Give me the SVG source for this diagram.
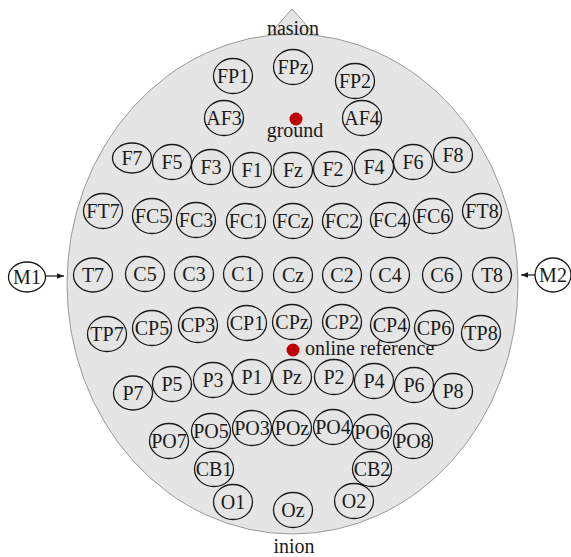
<svg xmlns="http://www.w3.org/2000/svg" width="571" height="557" viewBox="0 0 571 557">
<defs>
<style>
.head{fill:#e5e5e5;stroke:#9a9a9a;stroke-width:1}
.e{fill:none;stroke:#1a1a1a;stroke-width:1.3}
.t{font-family:"Liberation Serif","Times New Roman",serif;font-size:20px;fill:#1a1a1a;text-anchor:middle}
.lbl{font-family:"Liberation Serif","Times New Roman",serif;font-size:20px;fill:#1a1a1a}
.dot{fill:#c00000}
.arr{stroke:#1a1a1a;stroke-width:1.2;fill:none}
</style>
<marker id="ah" viewBox="0 0 10 10" refX="10" refY="5" markerWidth="7" markerHeight="7" orient="auto" markerUnits="userSpaceOnUse">
<path d="M0,1 L10,5 L0,9 z" fill="#1a1a1a"/>
</marker>
</defs>
<rect width="571" height="557" fill="#ffffff"/>
<g id="head">
<polygon class="head" points="292,9 266,38 318,38"/>
<ellipse class="head" cx="292.5" cy="284" rx="225.5" ry="250"/>
<text class="t" x="293" y="35">nasion</text>
<text class="t" x="294" y="553">inion</text>
</g>
<g id="markers">
<g id="ground"><circle class="dot" cx="296" cy="119" r="6.5"/><text class="t" x="295" y="137">ground</text></g>
<g id="onlineref"><circle class="dot" cx="293" cy="350" r="6.5"/><text class="lbl" x="305" y="355">online reference</text></g>
</g>
<g id="connectors">
<line class="arr" x1="45" y1="276" x2="64" y2="276" marker-end="url(#ah)"/>
<line class="arr" x1="535" y1="275" x2="521" y2="275" marker-end="url(#ah)"/>
</g>
<g id="electrodes">
<g id="FP1"><ellipse class="e" cx="233" cy="76" rx="19.5" ry="17.5"/><text class="t" x="233" y="82.5">FP1</text></g>
<g id="FPz"><ellipse class="e" cx="293" cy="67" rx="19.5" ry="17.5"/><text class="t" x="293" y="73.5">FPz</text></g>
<g id="FP2"><ellipse class="e" cx="355" cy="81" rx="19.5" ry="17.5"/><text class="t" x="355" y="87.5">FP2</text></g>
<g id="AF3"><ellipse class="e" cx="224" cy="118" rx="19.5" ry="17.5"/><text class="t" x="224" y="124.5">AF3</text></g>
<g id="AF4"><ellipse class="e" cx="362" cy="118" rx="19.5" ry="17.5"/><text class="t" x="362" y="124.5">AF4</text></g>

<g id="F7"><ellipse class="e" cx="132" cy="158" rx="19.5" ry="15"/><text class="t" x="132" y="164.5">F7</text></g>
<g id="F5"><ellipse class="e" cx="172" cy="162" rx="19.5" ry="17.5"/><text class="t" x="172" y="168.5">F5</text></g>
<g id="F3"><ellipse class="e" cx="211" cy="167" rx="19.5" ry="17.5"/><text class="t" x="211" y="173.5">F3</text></g>
<g id="F1"><ellipse class="e" cx="252" cy="170" rx="19.5" ry="17.5"/><text class="t" x="252" y="176.5">F1</text></g>
<g id="Fz"><ellipse class="e" cx="293" cy="170" rx="19.5" ry="17.5"/><text class="t" x="293" y="176.5">Fz</text></g>
<g id="F2"><ellipse class="e" cx="333" cy="169" rx="19.5" ry="17.5"/><text class="t" x="333" y="175.5">F2</text></g>
<g id="F4"><ellipse class="e" cx="374" cy="167" rx="19.5" ry="17.5"/><text class="t" x="374" y="173.5">F4</text></g>
<g id="F6"><ellipse class="e" cx="413" cy="162" rx="19.5" ry="17.5"/><text class="t" x="413" y="168.5">F6</text></g>
<g id="F8"><ellipse class="e" cx="453" cy="155" rx="19.5" ry="17.5"/><text class="t" x="453" y="161.5">F8</text></g>

<g id="FT7"><ellipse class="e" cx="103" cy="211" rx="19.5" ry="17.5"/><text class="t" x="103" y="217.5">FT7</text></g>
<g id="FC5"><ellipse class="e" cx="152" cy="216" rx="19.5" ry="17.5"/><text class="t" x="152" y="222.5">FC5</text></g>
<g id="FC3"><ellipse class="e" cx="196" cy="220" rx="19.5" ry="17.5"/><text class="t" x="196" y="226.5">FC3</text></g>
<g id="FC1"><ellipse class="e" cx="246" cy="221" rx="19.5" ry="17.5"/><text class="t" x="246" y="227.5">FC1</text></g>
<g id="FCz"><ellipse class="e" cx="293" cy="221" rx="19.5" ry="17.5"/><text class="t" x="293" y="227.5">FCz</text></g>
<g id="FC2"><ellipse class="e" cx="342" cy="221" rx="19.5" ry="17.5"/><text class="t" x="342" y="227.5">FC2</text></g>
<g id="FC4"><ellipse class="e" cx="390" cy="220" rx="19.5" ry="17.5"/><text class="t" x="390" y="226.5">FC4</text></g>
<g id="FC6"><ellipse class="e" cx="433" cy="216" rx="19.5" ry="17.5"/><text class="t" x="433" y="222.5">FC6</text></g>
<g id="FT8"><ellipse class="e" cx="482" cy="211" rx="19.5" ry="17.5"/><text class="t" x="482" y="217.5">FT8</text></g>

<g id="M1"><ellipse class="e" cx="27" cy="277" rx="18.5" ry="15"/><text class="t" x="27" y="283.5">M1</text></g>
<g id="T7"><ellipse class="e" cx="93" cy="275" rx="19.5" ry="17"/><text class="t" x="93" y="281.5">T7</text></g>
<g id="C5"><ellipse class="e" cx="145" cy="274" rx="19.5" ry="17.5"/><text class="t" x="145" y="280.5">C5</text></g>
<g id="C3"><ellipse class="e" cx="194" cy="274" rx="19.5" ry="17.5"/><text class="t" x="194" y="280.5">C3</text></g>
<g id="C1"><ellipse class="e" cx="243" cy="274" rx="19.5" ry="17.5"/><text class="t" x="243" y="280.5">C1</text></g>
<g id="Cz"><ellipse class="e" cx="293" cy="275" rx="19.5" ry="17.5"/><text class="t" x="293" y="281.5">Cz</text></g>
<g id="C2"><ellipse class="e" cx="342" cy="275" rx="19.5" ry="17.5"/><text class="t" x="342" y="281.5">C2</text></g>
<g id="C4"><ellipse class="e" cx="390" cy="275" rx="19.5" ry="17.5"/><text class="t" x="390" y="281.5">C4</text></g>
<g id="C6"><ellipse class="e" cx="442" cy="275" rx="19.5" ry="17.5"/><text class="t" x="442" y="281.5">C6</text></g>
<g id="T8"><ellipse class="e" cx="492" cy="275" rx="19.5" ry="17.5"/><text class="t" x="492" y="281.5">T8</text></g>
<g id="M2"><ellipse class="e" cx="553" cy="275" rx="18" ry="17"/><text class="t" x="553" y="281.5">M2</text></g>

<g id="TP7"><ellipse class="e" cx="107" cy="334" rx="19.5" ry="17.5"/><text class="t" x="107" y="340.5">TP7</text></g>
<g id="CP5"><ellipse class="e" cx="152" cy="328" rx="19.5" ry="17.5"/><text class="t" x="152" y="334.5">CP5</text></g>
<g id="CP3"><ellipse class="e" cx="198" cy="325" rx="19.5" ry="17.5"/><text class="t" x="198" y="331.5">CP3</text></g>
<g id="CP1"><ellipse class="e" cx="247" cy="323" rx="19.5" ry="17.5"/><text class="t" x="247" y="329.5">CP1</text></g>
<g id="CPz"><ellipse class="e" cx="292" cy="322" rx="19.5" ry="17.5"/><text class="t" x="292" y="328.5">CPz</text></g>
<g id="CP2"><ellipse class="e" cx="342" cy="322" rx="19.5" ry="17.5"/><text class="t" x="342" y="328.5">CP2</text></g>
<g id="CP4"><ellipse class="e" cx="390" cy="325" rx="19.5" ry="17.5"/><text class="t" x="390" y="331.5">CP4</text></g>
<g id="CP6"><ellipse class="e" cx="434" cy="328" rx="19.5" ry="17.5"/><text class="t" x="434" y="334.5">CP6</text></g>
<g id="TP8"><ellipse class="e" cx="481" cy="333" rx="19.5" ry="17.5"/><text class="t" x="481" y="339.5">TP8</text></g>

<g id="P7"><ellipse class="e" cx="133" cy="393" rx="19.5" ry="17"/><text class="t" x="133" y="399.5">P7</text></g>
<g id="P5"><ellipse class="e" cx="172" cy="384" rx="19.5" ry="17.5"/><text class="t" x="172" y="390.5">P5</text></g>
<g id="P3"><ellipse class="e" cx="213" cy="380" rx="19.5" ry="17.5"/><text class="t" x="213" y="386.5">P3</text></g>
<g id="P1"><ellipse class="e" cx="252" cy="377" rx="19.5" ry="17.5"/><text class="t" x="252" y="383.5">P1</text></g>
<g id="Pz"><ellipse class="e" cx="292" cy="377" rx="19.5" ry="17.5"/><text class="t" x="292" y="383.5">Pz</text></g>
<g id="P2"><ellipse class="e" cx="334" cy="377" rx="19.5" ry="17.5"/><text class="t" x="334" y="383.5">P2</text></g>
<g id="P4"><ellipse class="e" cx="374" cy="381" rx="19.5" ry="17.5"/><text class="t" x="374" y="387.5">P4</text></g>
<g id="P6"><ellipse class="e" cx="414" cy="385" rx="19.5" ry="17.5"/><text class="t" x="414" y="391.5">P6</text></g>
<g id="P8"><ellipse class="e" cx="453" cy="391" rx="19.5" ry="17.5"/><text class="t" x="453" y="397.5">P8</text></g>

<g id="PO7"><ellipse class="e" cx="169" cy="441" rx="19.5" ry="17.5"/><text class="t" x="169" y="447.5">PO7</text></g>
<g id="PO5"><ellipse class="e" cx="211" cy="431" rx="19.5" ry="17.5"/><text class="t" x="211" y="437.5">PO5</text></g>
<g id="PO3"><ellipse class="e" cx="252" cy="428" rx="19.5" ry="17.5"/><text class="t" x="252" y="434.5">PO3</text></g>
<g id="POz"><ellipse class="e" cx="292" cy="428" rx="19.5" ry="17.5"/><text class="t" x="292" y="434.5">POz</text></g>
<g id="PO4"><ellipse class="e" cx="333" cy="427" rx="19.5" ry="17.5"/><text class="t" x="333" y="433.5">PO4</text></g>
<g id="PO6"><ellipse class="e" cx="372" cy="432" rx="19.5" ry="17.5"/><text class="t" x="372" y="438.5">PO6</text></g>
<g id="PO8"><ellipse class="e" cx="413" cy="441" rx="19.5" ry="17.5"/><text class="t" x="413" y="447.5">PO8</text></g>

<g id="CB1"><ellipse class="e" cx="214" cy="469" rx="19.5" ry="17.5"/><text class="t" x="214" y="475.5">CB1</text></g>
<g id="CB2"><ellipse class="e" cx="372" cy="469" rx="19.5" ry="17.5"/><text class="t" x="372" y="475.5">CB2</text></g>
<g id="O1"><ellipse class="e" cx="233" cy="502" rx="19.5" ry="17.5"/><text class="t" x="233" y="508.5">O1</text></g>
<g id="Oz"><ellipse class="e" cx="293" cy="510" rx="19.5" ry="17.5"/><text class="t" x="293" y="516.5">Oz</text></g>
<g id="O2"><ellipse class="e" cx="354" cy="501" rx="19.5" ry="17.5"/><text class="t" x="354" y="507.5">O2</text></g>
</g>
</svg>
